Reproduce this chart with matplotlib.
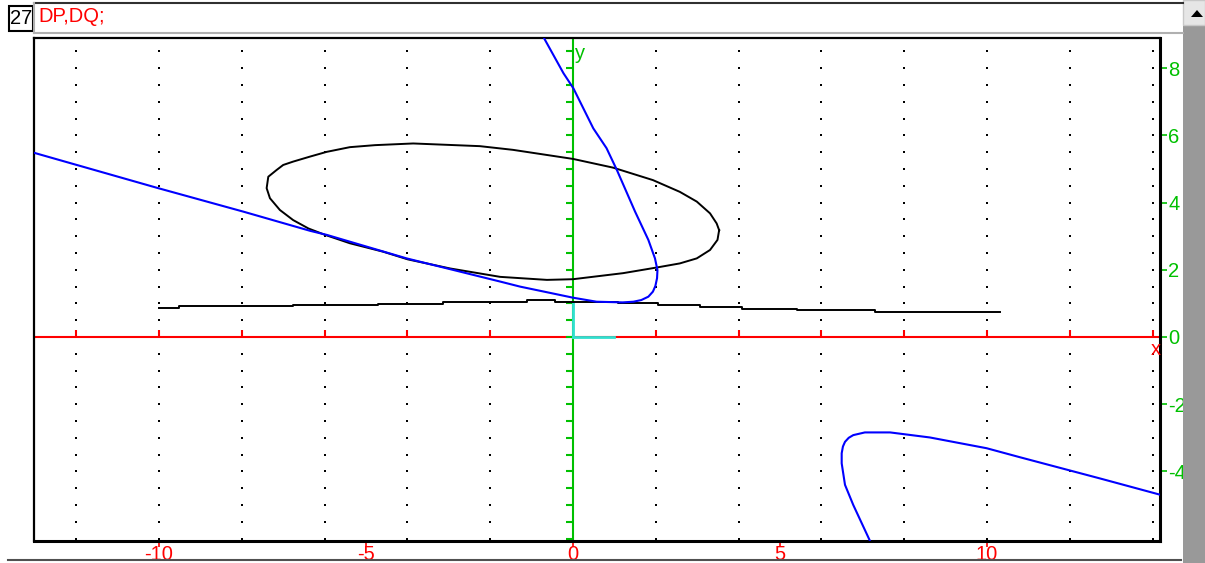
import matplotlib
matplotlib.use("Agg")
import matplotlib.pyplot as plt
from matplotlib.patches import Rectangle, Polygon
from matplotlib.lines import Line2D

plt.rcParams['font.family'] = ['Liberation Sans', 'DejaVu Sans']

# curves
ell_x = [3.53, 3.47, 3.31, 2.99, 2.58, 1.93, 0.97, 0.0, -1.45, -2.25, -3.86, -4.78, -5.39,
         -5.95, -6.35, -6.76, -7.0, -7.16, -7.36, -7.40, -7.32, -7.08, -6.76, -6.39, -5.99,
         -5.39, -4.59, -3.99, -2.97, -1.76, -0.63, 0.0, 1.21, 2.03, 2.58, 2.99, 3.31, 3.49, 3.53]
ell_y = [3.18, 3.38, 3.68, 4.03, 4.32, 4.67, 5.04, 5.30, 5.57, 5.68, 5.76, 5.71, 5.65,
         5.51, 5.37, 5.22, 5.12, 4.97, 4.77, 4.43, 4.13, 3.78, 3.48, 3.23, 3.04,
         2.79, 2.54, 2.31, 2.04, 1.79, 1.70, 1.72, 1.90, 2.07, 2.19, 2.34, 2.59, 2.89, 3.18]

flat_x = [-10.0, -9.52, -6.76, -4.71, -3.14, -1.11, -0.43, 1.09, 2.05, 3.07, 4.08, 5.41, 7.29, 10.31]
flat_y = [0.85, 0.91, 0.96, 0.99, 1.04, 1.09, 1.04, 1.0, 0.95, 0.9, 0.84, 0.79, 0.74, 0.74]

blue1_x = [-13.04, -10.02, -7.96, -6.35, -5.95, -4.02, -1.76, -1.28, 0.0, 0.57, 1.20, 1.46, 1.65,
           1.82, 1.93, 1.99, 2.03, 2.04, 1.98, 1.82, 1.50, 1.06, 0.81, 0.49, 0.01, -0.23, -0.72]
blue1_y = [5.49, 4.43, 3.73, 3.16, 3.04, 2.34, 1.65, 1.50, 1.17, 1.05, 1.03, 1.05, 1.10,
           1.20, 1.35, 1.52, 1.75, 1.99, 2.34, 2.89, 3.73, 4.97, 5.62, 6.21, 7.40, 7.85, 8.94]

blue2_x = [7.17, 6.77, 6.57, 6.49, 6.49, 6.52, 6.57, 6.66, 6.77, 7.05, 7.66, 8.62, 9.99, 10.80, 12.73, 14.2]
blue2_y = [-6.06, -5.0, -4.40, -3.76, -3.46, -3.26, -3.12, -3.0, -2.92, -2.84, -2.84, -2.99, -3.31, -3.58, -4.21, -4.70]

unit_x = [0, 1]
unit_y = [0, 1]

x_dots = [-12, -10, -8, -6, -4, -2, 0, 2, 4, 6, 8, 10, 12, 14]
y_dots = [v / 2 for v in range(-12, 18)]
x_axis_ticks = [-12, -10, -8, -6, -4, -2, 2, 4, 6, 8, 10, 12, 14]
y_axis_ticks = [v / 2 for v in range(-12, 18)]
x_labels = [-10, -5, 0, 5, 10]
y_labels = [-4, -2, 0, 2, 4, 6, 8]

W, H = 1205, 563
RED = '#ff0000'
GREEN = '#00c000'
FS = 14.5

fig = plt.figure(figsize=(W / 100, H / 100), dpi=100)
fig.patch.set_facecolor('white')

def fx(px):
    return px / W

def fy(py):
    return 1 - py / H

L, R, T, B = 34, 1160, 38, 541
ax = fig.add_axes([fx(L), fy(B), (R - L) / W, (B - T) / H])
ax.set_xlim((L - 573) / 41.4, (R - 573) / 41.4)
ax.set_ylim((337 - B) / 33.6, (337 - T) / 33.6)

# dotted grid
gx = [x for x in x_dots for _ in y_dots]
gy = [y for _ in x_dots for y in y_dots]
ax.plot(gx, gy, 's', color='black', markersize=1.6, markeredgewidth=0, zorder=1)

# axes through origin
ax.axhline(0, color=RED, lw=1.5, zorder=2)
ax.axvline(0, color=GREEN, lw=1.5, zorder=2)
ax.plot(x_axis_ticks, [0] * len(x_axis_ticks), linestyle='none', marker=2,
        color=RED, markersize=5, markeredgewidth=1.5, zorder=2)
ax.plot([0] * len(y_axis_ticks), y_axis_ticks, linestyle='none', marker=0,
        color=GREEN, markersize=5, markeredgewidth=1.5, zorder=2)
ax.plot([0, 0], unit_y, color='#30e0d0', lw=2, zorder=3)
ax.plot(unit_x, [0, 0], color='#30e0d0', lw=2, zorder=3)
ax.text(0.05, 8.45, 'y', color=GREEN, fontsize=FS, va='center', ha='left')
ax.text(14.07, -0.38, 'x', color=RED, fontsize=FS, va='center', ha='center')

# curves
ax.plot(ell_x, ell_y, color='black', lw=1.4, zorder=4)
ax.plot(flat_x, flat_y, color='black', lw=1.4, drawstyle='steps-post', zorder=4)
ax.plot(blue1_x, blue1_y, color='#0000ff', lw=1.5, zorder=5)
ax.plot(blue2_x, blue2_y, color='#0000ff', lw=1.5, zorder=5)

# frame and tick labels
for s in ax.spines.values():
    s.set_linewidth(1.6)
    s.set_color('black')
ax.spines['right'].set_linewidth(2.2)
ax.spines['bottom'].set_linewidth(2.2)
ax.set_xticks(x_labels)
ax.set_xticklabels([str(v) for v in x_labels])
ax.set_yticks(y_labels)
ax.set_yticklabels([str(v) for v in y_labels])
ax.tick_params(axis='x', direction='out', length=4, width=1.2, color=RED,
               labelcolor=RED, labelsize=FS, pad=-1)
ax.tick_params(axis='y', left=False, labelleft=False, right=True, labelright=True,
               direction='out', length=5, width=1.2, color=GREEN,
               labelcolor=GREEN, labelsize=FS, pad=1)

# surrounding window elements
fig.patches.append(Rectangle((fx(9), fy(31)), 24 / W, 25 / H, transform=fig.transFigure,
                             fill=False, edgecolor='black', lw=1.5))
fig.text(fx(21), fy(18), '27', color='black', fontsize=FS, ha='center', va='center')
fig.text(fx(38), fy(17), 'DP,DQ;', color=RED, fontsize=FS, ha='left', va='center')
fig.add_artist(Line2D([fx(34), fx(1183)], [fy(3), fy(3)], color='#303030', lw=1.5))
fig.add_artist(Line2D([fx(34), fx(1183)], [fy(33), fy(33)], color='#b0b0b0', lw=1.5))
fig.add_artist(Line2D([fx(34), fx(34)], [fy(3), fy(33)], color='#b0b0b0', lw=1.5))
fig.add_artist(Line2D([fx(8), fx(1181)], [fy(560), fy(560)], color='#505050', lw=1.5))
fig.patches.append(Rectangle((fx(1183), 0), 22 / W, fy(25), transform=fig.transFigure,
                             facecolor='#999999', edgecolor='none'))
fig.patches.append(Rectangle((fx(1183), fy(25)), 22 / W, 25 / H, transform=fig.transFigure,
                             facecolor='#e6e6e6', edgecolor='#c8c8c8', lw=1))
fig.patches.append(Polygon([(fx(1191), fy(17)), (fx(1203), fy(17)), (fx(1197), fy(10))],
                           closed=True, transform=fig.transFigure, facecolor='black',
                           edgecolor='none'))

fig.savefig('out.png', dpi=100)
